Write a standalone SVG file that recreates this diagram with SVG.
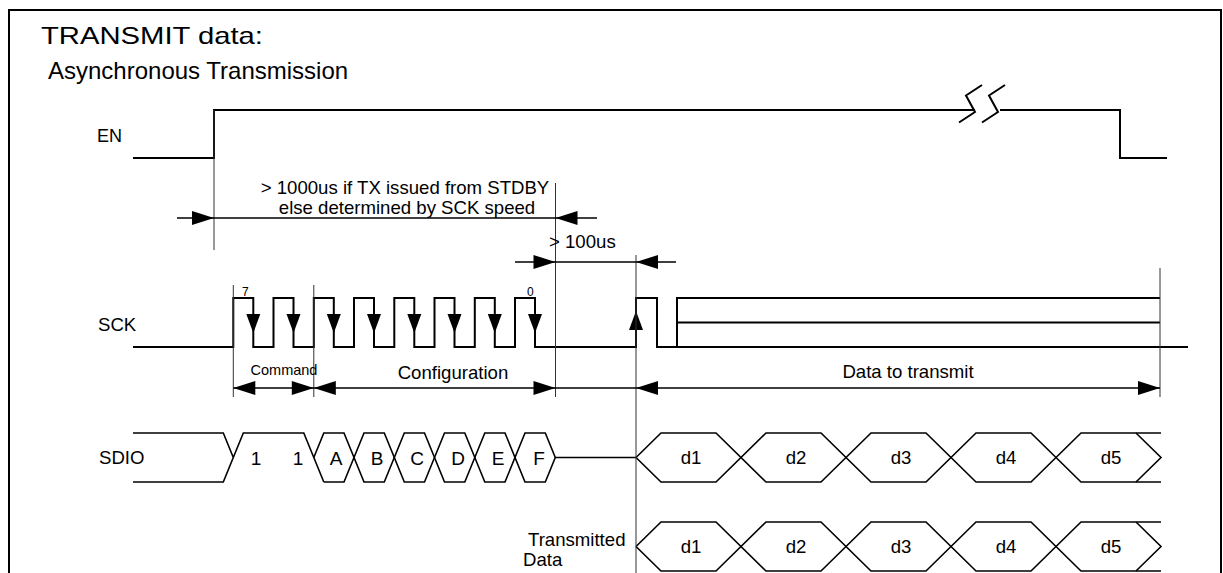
<svg xmlns="http://www.w3.org/2000/svg" width="1223" height="573" viewBox="0 0 1223 573">
<style>
.w{fill:none;stroke:#000;stroke-width:2}
.b{fill:none;stroke:#000;stroke-width:1.6}
.d{fill:none;stroke:#000;stroke-width:1.5}
.e{fill:none;stroke:#333;stroke-width:1}
text{font-family:"Liberation Sans",Arial,sans-serif;fill:#000;font-size:18.6px}
.c{text-anchor:middle}
.ttl{font-size:24px}
.sm{font-size:12px}
.cmd{font-size:14.5px}
.v{font-size:19px}
</style>
<defs>
<path id="ah" d="M0,0 L-22,-7 L-22,7 Z" fill="#000"/>
<path id="ahs" d="M0,0 L-19,-7 L-19,7 Z" fill="#000"/>
</defs>
<rect x="9" y="10" width="1212" height="600" fill="#fff" stroke="#000" stroke-width="2"/>
<g id="title">
<text class="ttl" x="41" y="44" textLength="222" lengthAdjust="spacingAndGlyphs">TRANSMIT data:</text>
<text class="ttl" x="48" y="79">Asynchronous Transmission</text>
</g>
<g id="en">
<text x="97" y="142" style="font-size:18px">EN</text>
<path class="w" d="M133,158 H214 V110 H975"/>
<path class="w" d="M1000,110 H1120 V158 H1167"/>
<path class="w" d="M982,85 L966,95.5 L975,112 L959,122.5"/>
<path class="w" d="M1005,85 L989,95.5 L998,112 L982,122.5"/>
</g>
<g id="sck">
<text x="98" y="331">SCK</text>
<path class="w" d="M133,347 H233.3 V298 H253.3 V347 H273.5 V298 H293.5 V347 H313.8 V298 H333.8 V347 H354 V298 H374 V347 H394.3 V298 H414.3 V347 H434.5 V298 H454.5 V347 H474.8 V298 H494.8 V347 H515 V298 H535 V347 H636 V298 H657 V347 H1188"/>
<path class="w" d="M677,347 V298 H1160 M677,322.5 H1160"/>
<use href="#ahs" transform="translate(253.3,333) rotate(90)"/>
<use href="#ahs" transform="translate(293.5,333) rotate(90)"/>
<use href="#ahs" transform="translate(333.8,333) rotate(90)"/>
<use href="#ahs" transform="translate(374,333) rotate(90)"/>
<use href="#ahs" transform="translate(414.3,333) rotate(90)"/>
<use href="#ahs" transform="translate(454.5,333) rotate(90)"/>
<use href="#ahs" transform="translate(494.8,333) rotate(90)"/>
<use href="#ahs" transform="translate(535,333) rotate(90)"/>
<use href="#ahs" transform="translate(636,311) rotate(-90)"/>
<text class="sm" x="242" y="296">7</text>
<text class="sm" x="527" y="296">0</text>
</g>
<g id="sdio">
<text x="99" y="464">SDIO</text>
<path class="b" d="M133,433 H223.3 L233.3,457.5 M133,482 H223.3 L243.3,433 H303.8 L323.8,482"/>
<path class="b" d="M313.8,457.5 L323.8,433 H344 L364,482 H384.3 L404.3,433 H424.5 L444.5,482 H464.8 L484.8,433 H505 L525,482 H545.3 L555.3,457.5"/>
<path class="b" d="M323.8,482 H344 L364,433 H384.3 L404.3,482 H424.5 L444.5,433 H464.8 L484.8,482 H505 L525,433 H545.3 L555.3,457.5 H636"/>
<text class="v c" x="256" y="465">1</text>
<text class="v c" x="298" y="465">1</text>
<text class="v c" x="336" y="465">A</text>
<text class="v c" x="377" y="465">B</text>
<text class="v c" x="417" y="465">C</text>
<text class="v c" x="458" y="465">D</text>
<text class="v c" x="498" y="465">E</text>
<text class="v c" x="539" y="465">F</text>
<path class="b" d="M636,457.5 L661,433 H716 L766,482 H821 L871,433 H926 L976,482 H1031 L1081,433 H1161"/>
<path class="b" d="M636,457.5 L661,482 H716 L766,433 H821 L871,482 H926 L976,433 H1031 L1081,482 H1161"/>
<path class="b" d="M1136,433 L1161,457.5 L1136,482"/>
<text class="c" x="691" y="464">d1</text>
<text class="c" x="796" y="464">d2</text>
<text class="c" x="901" y="464">d3</text>
<text class="c" x="1006" y="464">d4</text>
<text class="c" x="1111" y="464">d5</text>
</g>
<g id="txdata">
<text x="528" y="546">Transmitted</text>
<text x="523" y="566">Data</text>
<path class="b" d="M636,546.5 L661,522 H716 L766,571 H821 L871,522 H926 L976,571 H1031 L1081,522 H1161"/>
<path class="b" d="M636,546.5 L661,571 H716 L766,522 H821 L871,571 H926 L976,522 H1031 L1081,571 H1161"/>
<path class="b" d="M1136,522 L1161,546.5 L1136,571"/>
<text class="c" x="691" y="553">d1</text>
<text class="c" x="796" y="553">d2</text>
<text class="c" x="901" y="553">d3</text>
<text class="c" x="1006" y="553">d4</text>
<text class="c" x="1111" y="553">d5</text>
</g>
<g id="connectors">
<path class="e" d="M214,110 V250 M555.5,183 V397 M233.3,285 V397 M313.8,285 V397 M636,255 V573 M1160,268 V397"/>
<path class="d" d="M177,218 H597 M515,262 H676 M233.3,388 H1160"/>
<use href="#ah" transform="translate(214,218)"/>
<use href="#ah" transform="translate(555.5,218) rotate(180)"/>
<use href="#ah" transform="translate(555.5,262)"/>
<use href="#ah" transform="translate(636,262) rotate(180)"/>
<use href="#ah" transform="translate(233.3,388) rotate(180)"/>
<use href="#ah" transform="translate(313.8,388)"/>
<use href="#ah" transform="translate(313.8,388) rotate(180)"/>
<use href="#ah" transform="translate(555.5,388)"/>
<use href="#ah" transform="translate(636,388) rotate(180)"/>
<use href="#ah" transform="translate(1160,388)"/>
</g>
<g id="labels">
<text class="c" x="405" y="194">&gt; 1000us if TX issued from STDBY</text>
<text class="c" x="407" y="214">else determined by SCK speed</text>
<text x="549" y="248">&gt; 100us</text>
<text class="cmd c" x="284" y="375">Command</text>
<text class="c" x="453" y="379">Configuration</text>
<text class="c" x="908" y="378">Data to transmit</text>
</g>
</svg>
